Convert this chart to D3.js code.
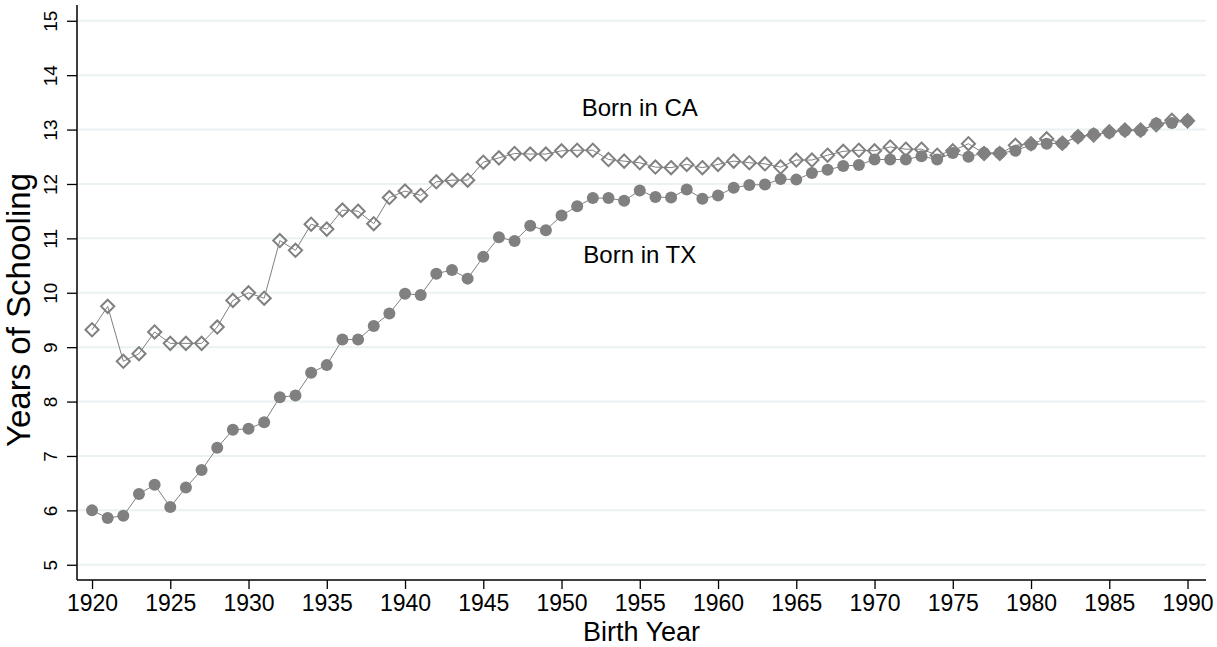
<!DOCTYPE html>
<html>
<head>
<meta charset="utf-8">
<script src="https://cdn.jsdelivr.net/npm/d3@7"></script>
<style>
  body { margin: 0; background: #fff; }
  svg { display: block; font-family: "Liberation Sans", Arial, sans-serif; }
</style>
</head>
<body>
<div id="chart"></div>
<script>
// data
var years = d3.range(1920, 1991);

var caSchooling = [
  9.32, 9.75, 8.74, 8.88, 9.28, 9.07, 9.07, 9.07, 9.37, 9.86,
  10.00, 9.90, 10.96, 10.78, 11.26, 11.17, 11.52, 11.50, 11.27, 11.75,
  11.87, 11.79, 12.04, 12.07, 12.07, 12.40, 12.48, 12.56, 12.55, 12.55,
  12.61, 12.62, 12.62, 12.45, 12.42, 12.39, 12.31, 12.30, 12.36, 12.30,
  12.36, 12.42, 12.39, 12.37, 12.31, 12.44, 12.44, 12.53, 12.60, 12.62,
  12.61, 12.68, 12.64, 12.64, 12.53, 12.61, 12.74, 12.56, 12.56, 12.71,
  12.74, 12.83, 12.75, 12.87, 12.90, 12.96, 12.99, 12.99, 13.09, 13.17,
  13.16
];

var txSchooling = [
  6.00, 5.86, 5.90, 6.30, 6.47, 6.06, 6.42, 6.74, 7.15, 7.48,
  7.50, 7.62, 8.08, 8.11, 8.53, 8.67, 9.14, 9.14, 9.39, 9.62,
  9.98, 9.96, 10.35, 10.42, 10.26, 10.66, 11.02, 10.95, 11.23, 11.15,
  11.42, 11.59, 11.74, 11.74, 11.69, 11.88, 11.76, 11.75, 11.90, 11.73,
  11.79, 11.93, 11.98, 11.99, 12.09, 12.08, 12.20, 12.26, 12.33, 12.35,
  12.45, 12.45, 12.45, 12.51, 12.45, 12.57, 12.50, 12.57, 12.57, 12.61,
  12.72, 12.74, 12.75, 12.87, 12.92, 12.94, 12.98, 12.98, 13.11, 13.12,
  13.16
];

var xTicks = d3.range(1920, 1991, 5);
var yTicks = d3.range(5, 16, 1);

var labelText = ["Born in CA", "Born in TX"];
var labelYear = [1955, 1955];
var labelValue = [13.25, 10.55];

var svgWidth = 1217;
var svgHeight = 647;

var margin = {
  top: 5,
  right: 11,
  bottom: 67,
  left: 77
};

var width = svgWidth - margin.left - margin.right;
var height = svgHeight - margin.top - margin.bottom;

var grey = "#808080";

var svg = d3
  .select("#chart")
  .append("svg")
  .attr("width", svgWidth)
  .attr("height", svgHeight);

svg.append("rect")
  .attr("width", svgWidth)
  .attr("height", svgHeight)
  .attr("fill", "#fff");

var chartGroup = svg.append("g")
  .attr("transform", `translate(${margin.left}, ${margin.top})`);

// scales
var xScale = d3.scaleLinear()
  .domain([1919.04, 1991.18])
  .range([0, width]);

var yScale = d3.scaleLinear()
  .domain([4.72, 15.29])
  .range([height, 0]);

// gridlines
chartGroup.append("g")
  .selectAll("line")
  .data(yTicks)
  .enter()
  .append("line")
  .attr("x1", 1)
  .attr("x2", width)
  .attr("y1", d => yScale(d))
  .attr("y2", d => yScale(d))
  .attr("stroke", "#eaf2f3")
  .attr("stroke-width", 2);

// x axis
var bottomAxis = d3.axisBottom(xScale)
  .tickValues(xTicks)
  .tickFormat(d3.format("d"))
  .tickSize(9)
  .tickPadding(6);

var xAxis = chartGroup.append("g")
  .attr("transform", `translate(0, ${height})`)
  .call(bottomAxis);

xAxis.select(".domain")
  .attr("d", `M0,0H${width}`)
  .attr("stroke-width", 1.5);

xAxis.selectAll("line").attr("stroke-width", 1.3);
xAxis.selectAll("text")
  .attr("font-size", 23)
  .attr("fill", "#000");

// y axis
var leftAxis = d3.axisLeft(yScale)
  .tickValues(yTicks)
  .tickSize(10);

var yAxis = chartGroup.append("g")
  .call(leftAxis);

yAxis.select(".domain")
  .attr("d", `M0,0V${height}`)
  .attr("stroke-width", 1.5);

yAxis.selectAll("line").attr("stroke-width", 1.3);

// rotated tick labels
yAxis.selectAll("text")
  .attr("transform", "rotate(-90)")
  .attr("x", 0)
  .attr("y", -20)
  .attr("dy", 0)
  .attr("text-anchor", "middle")
  .attr("font-size", 19)
  .attr("fill", "#000");

// axis titles
chartGroup.append("text")
  .attr("x", width / 2)
  .attr("y", height + 61)
  .attr("text-anchor", "middle")
  .attr("font-size", 27)
  .text("Birth Year");

chartGroup.append("text")
  .attr("transform", "rotate(-90)")
  .attr("x", -305)
  .attr("y", -47)
  .attr("text-anchor", "middle")
  .attr("font-size", 33)
  .text("Years of Schooling");

// connecting lines
var line = d3.line()
  .x((d, i) => xScale(years[i]))
  .y(d => yScale(d));

chartGroup.append("path")
  .datum(caSchooling)
  .attr("d", line)
  .attr("fill", "none")
  .attr("stroke", grey)
  .attr("stroke-width", 1);

chartGroup.append("path")
  .datum(txSchooling)
  .attr("d", line)
  .attr("fill", "none")
  .attr("stroke", grey)
  .attr("stroke-width", 1);

// TX markers: solid circles
chartGroup.append("g")
  .selectAll("circle")
  .data(txSchooling)
  .enter()
  .append("circle")
  .attr("cx", (d, i) => xScale(years[i]))
  .attr("cy", d => yScale(d))
  .attr("r", 6)
  .attr("fill", grey);

// CA markers: hollow diamonds
var diamond = "M0,-6.6L6.6,0L0,6.6L-6.6,0Z";

chartGroup.append("g")
  .selectAll("path")
  .data(caSchooling)
  .enter()
  .append("path")
  .attr("transform", (d, i) => `translate(${xScale(years[i])}, ${yScale(d)})`)
  .attr("d", diamond)
  .attr("fill", "none")
  .attr("stroke", grey)
  .attr("stroke-width", 2);

// series labels
chartGroup.append("g")
  .selectAll("text")
  .data(labelText)
  .enter()
  .append("text")
  .attr("x", (d, i) => xScale(labelYear[i]))
  .attr("y", (d, i) => yScale(labelValue[i]))
  .attr("text-anchor", "middle")
  .attr("font-size", 24)
  .text(d => d);
</script>
</body>
</html>
